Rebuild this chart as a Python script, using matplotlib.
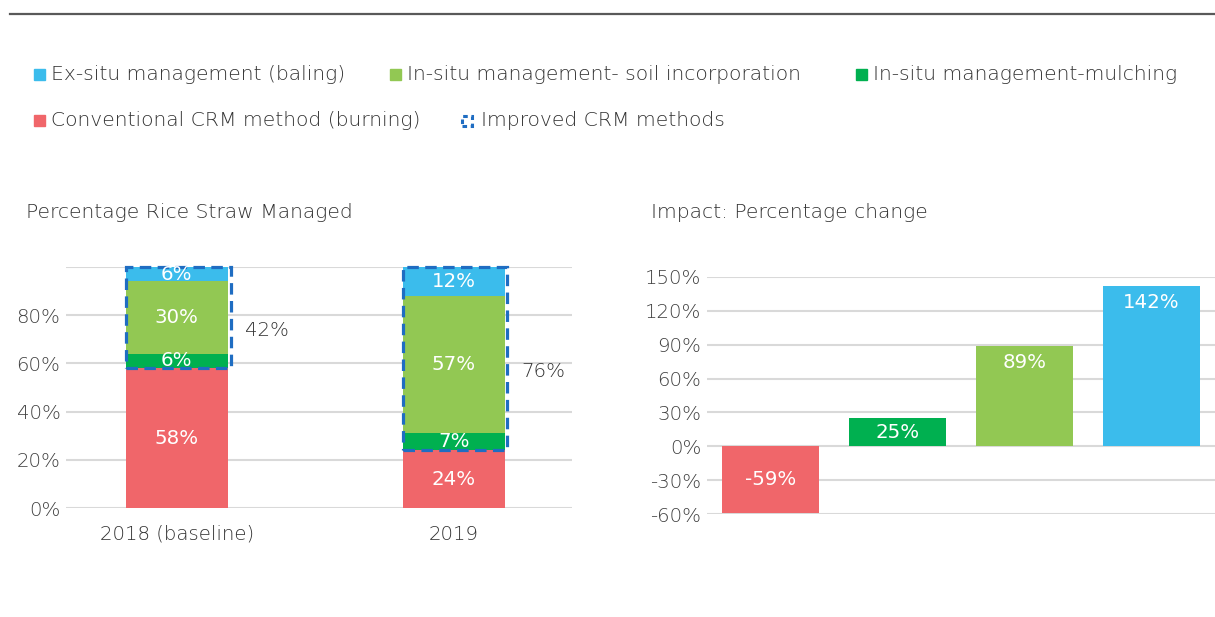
import matplotlib
matplotlib.use("Agg")
import matplotlib.pyplot as plt
from matplotlib.patches import Rectangle
from matplotlib.lines import Line2D

plt.rcParams['font.family'] = ['DejaVu Sans']

# data
years = ["2018 (baseline)", "2019"]
burning = [58, 24]
mulching = [6, 7]
soil = [30, 57]
baling = [6, 12]

impact_labels = ["Conventional CRM method (burning)", "In-situ management-mulching",
                 "In-situ management- soil incorporation", "Ex-situ management (baling)"]
impact_values = [-59, 25, 89, 142]

left_ticks = [0, 20, 40, 60, 80, 100]
right_ticks = [-60, -30, 0, 30, 60, 90, 120, 150]

# colours
RED = "#F0666A"
GREEN = "#00B050"
LGREEN = "#92C853"
BLUE = "#3BBCEC"
DASH = "#1F6DC2"
TXT = "#333333"
TICK = "#404040"
GRID = "#D9D9D9"

FS = 14.6   # legend / titles
NS = 14.2   # numbers

W, H = 1215, 617
fig = plt.figure(figsize=(W / 100, H / 100), dpi=100)


def fx(x):
    return x / W


def fy(y):
    return 1 - y / H


# top rule
fig.add_artist(Line2D([fx(10), 1], [fy(14), fy(14)], color="#595959", lw=1.6,
                      transform=fig.transFigure))

# legend (drawn by hand to keep the original layout)
legend_items = [
    ("Ex-situ management (baling)", BLUE, 34, 74),
    ("In-situ management- soil incorporation", LGREEN, 390, 74),
    ("In-situ management-mulching", GREEN, 856, 74),
    ("Conventional CRM method (burning)", RED, 34, 120),
]
for label, col, x, y in legend_items:
    fig.add_artist(Rectangle((fx(x), fy(y + 6)), fx(11), 11 / H, color=col,
                             transform=fig.transFigure))
    fig.text(fx(x + 17), fy(y), label, color=TXT, fontsize=FS, fontweight="light",
             va="center", ha="left")
fig.add_artist(Rectangle((fx(462), fy(126)), fx(10), 10 / H, fill=False, ec=DASH,
                         lw=2.2, ls=(0, (1.5, 1.2)), transform=fig.transFigure))
fig.text(fx(481), fy(120), "Improved CRM methods", color=TXT, fontsize=FS,
         fontweight="light", va="center", ha="left")

# titles
fig.text(fx(26), fy(212), "Percentage Rice Straw Managed", color=TXT, fontsize=FS,
         fontweight="light", va="center", ha="left")
fig.text(fx(651), fy(212), "Impact: Percentage change", color=TXT, fontsize=FS,
         fontweight="light", va="center", ha="left")

# ---- left: stacked bars
ax1 = fig.add_axes([fx(66), fy(508), fx(506), 241 / H])
xs = [0, 1]
bw = 0.368
bottom = [0, 0]
for vals, col in [(burning, RED), (mulching, GREEN), (soil, LGREEN), (baling, BLUE)]:
    ax1.bar(xs, vals, bw, bottom=bottom, color=col, zorder=2)
    for i, v in enumerate(vals):
        ax1.text(xs[i], bottom[i] + v / 2, f"{v}%", color="white", fontsize=NS,
                 ha="center", va="center", zorder=4)
    bottom = [b + v for b, v in zip(bottom, vals)]

for i in range(len(xs)):
    improved = mulching[i] + soil[i] + baling[i]
    ax1.add_patch(Rectangle((xs[i] - bw / 2, burning[i]), bw + 0.01, improved, fill=False,
                            ec=DASH, lw=2.3, ls=(0, (3.6, 2.0)), zorder=3, clip_on=False))
    ax1.text(xs[i] + 0.245, burning[i] + improved / 2 - 5.5, f"{improved}%", color=TXT,
             fontsize=NS, fontweight="light", ha="left", va="center")

ax1.set_xlim(-0.4, 1.427)
ax1.set_ylim(0, 100)
ax1.set_yticks(left_ticks)
ax1.set_yticklabels([f"{t}%" if t < 100 else "" for t in left_ticks])
ax1.set_xticks(xs)
ax1.set_xticklabels(years)

# ---- right: percentage change
ax2 = fig.add_axes([fx(707), fy(514), fx(508), 237 / H])
cols = [RED, GREEN, LGREEN, BLUE]
xi = list(range(len(impact_values)))
ax2.bar(xi, impact_values, 0.76, color=cols, zorder=2)
for i, v in enumerate(impact_values):
    ypos = v / 2 if abs(v) < 60 else v - 15
    ax2.text(i, ypos, f"{v}%", color="white", fontsize=NS,
             ha="center", va="center", zorder=4)
ax2.set_xlim(-0.5, 3.5)
ax2.set_ylim(-60, 150)
ax2.set_yticks(right_ticks)
ax2.set_yticklabels([f"{t}%" for t in right_ticks])
ax2.set_xticks([])

for ax in (ax1, ax2):
    for s in ax.spines.values():
        s.set_visible(False)
    ax.grid(axis="y", color=GRID, lw=1.5, zorder=0)
    ax.set_axisbelow(True)
    ax.tick_params(length=0, labelsize=NS, labelcolor=TICK, pad=4)
    for lab in ax.get_yticklabels() + ax.get_xticklabels():
        lab.set_fontweight("light")
ax1.tick_params(axis="x", pad=12, labelcolor=TXT)

fig.savefig("out.png", dpi=100)
